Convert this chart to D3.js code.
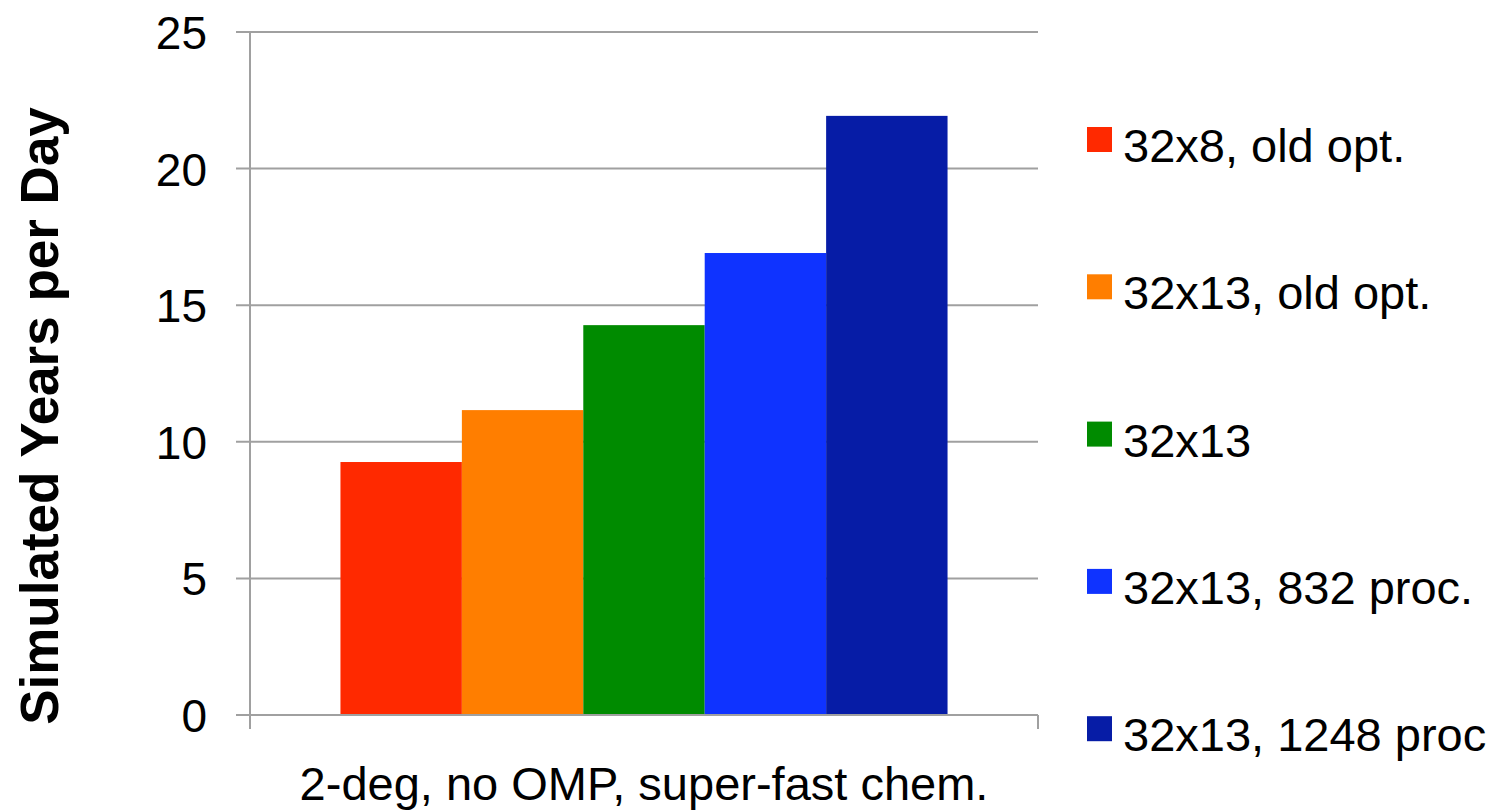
<!DOCTYPE html>
<html>
<head>
<meta charset="utf-8">
<script src="https://cdn.jsdelivr.net/npm/d3@7/dist/d3.min.js"></script>
<style>
  html, body { margin: 0; padding: 0; background: #fff; }
  svg { display: block; font-family: "Liberation Sans", Arial, Helvetica, sans-serif; }
</style>
</head>
<body>
<svg id="chart" width="1501" height="812"></svg>
<script>
// Throughput of the 2-degree run for each decomposition / processor setup
const categories = ["2-deg, no OMP, super-fast chem."];
const seriesNames = ["32x8, old opt.", "32x13, old opt.", "32x13", "32x13, 832 proc.", "32x13, 1248 proc"];
const seriesValues = [9.26, 11.16, 14.27, 16.91, 21.93];
const seriesColors = ["#ff2900", "#ff7e00", "#008b00", "#0f33ff", "#061ca6"];
const yTicks = [0, 5, 10, 15, 20, 25];
const yTitle = "Simulated Years per Day";

const svg = d3.select("#chart");
const plot = { left: 250, right: 1038, top: 32, bottom: 715 };
const axisColor = "#a0a0a0";

const y = d3.scaleLinear().domain([0, 25]).range([plot.bottom, plot.top]);
const x = d3.scaleBand()
  .domain(seriesNames)
  .range([plot.left, plot.right])
  .paddingInner(0)
  .paddingOuter(0.745);

// Horizontal gridlines with left tick marks
svg.append("g")
  .selectAll("line")
  .data(yTicks)
  .join("line")
  .attr("x1", plot.left - 14)
  .attr("x2", plot.right)
  .attr("y1", d => y(d))
  .attr("y2", d => y(d))
  .attr("stroke", axisColor)
  .attr("stroke-width", 2);

// Tick labels
svg.append("g")
  .selectAll("text")
  .data(yTicks)
  .join("text")
  .attr("x", 207)
  .attr("y", d => y(d) + 17)
  .attr("text-anchor", "end")
  .attr("font-size", 46)
  .attr("fill", "#000")
  .text(d => d);

// Bars
svg.append("g")
  .selectAll("rect")
  .data(seriesNames.map((name, i) => ({ name, value: seriesValues[i], color: seriesColors[i] })))
  .join("rect")
  .attr("x", d => x(d.name))
  .attr("width", x.bandwidth())
  .attr("y", d => y(d.value))
  .attr("height", d => y(0) - y(d.value))
  .attr("fill", d => d.color);

// Vertical axis line and category boundary ticks
svg.append("line")
  .attr("x1", plot.left).attr("x2", plot.left)
  .attr("y1", plot.top).attr("y2", plot.bottom + 14)
  .attr("stroke", axisColor).attr("stroke-width", 2);
svg.append("line")
  .attr("x1", plot.right).attr("x2", plot.right)
  .attr("y1", plot.bottom).attr("y2", plot.bottom + 14)
  .attr("stroke", axisColor).attr("stroke-width", 2);
svg.append("line")
  .attr("x1", plot.left).attr("x2", plot.right)
  .attr("y1", plot.bottom).attr("y2", plot.bottom)
  .attr("stroke", axisColor).attr("stroke-width", 2);

// Category label
svg.append("text")
  .attr("x", (plot.left + plot.right) / 2)
  .attr("y", 800)
  .attr("text-anchor", "middle")
  .attr("font-size", 47)
  .attr("fill", "#000")
  .text(categories[0]);

// Y axis title
svg.append("text")
  .attr("transform", "translate(58,416) rotate(-90)")
  .attr("text-anchor", "middle")
  .attr("font-size", 53)
  .attr("font-weight", "bold")
  .attr("fill", "#000")
  .text(yTitle);

// Legend
const legend = svg.append("g")
  .selectAll("g")
  .data(seriesNames.map((name, i) => ({ name, color: seriesColors[i], i })))
  .join("g")
  .attr("transform", d => `translate(1087,${127 + d.i * 147.3})`);
legend.append("rect")
  .attr("width", 25).attr("height", 25)
  .attr("fill", d => d.color);
legend.append("text")
  .attr("x", 36)
  .attr("y", 35)
  .attr("font-size", 47)
  .attr("fill", "#000")
  .text(d => d.name);
</script>
</body>
</html>
